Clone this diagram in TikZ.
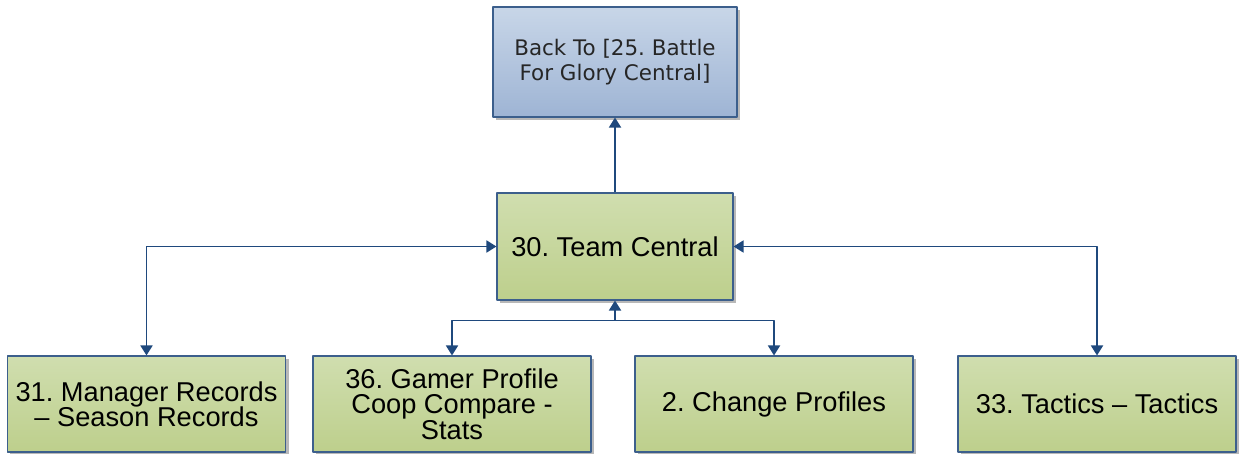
\documentclass[tikz,border=0pt]{standalone}
\usepackage{fontspec}
\setmainfont{Liberation Sans}
\newfontfamily\backfont{DejaVu Sans}
\usetikzlibrary{arrows.meta,shadows}
\frenchspacing
\definecolor{linkblue}{RGB}{31,73,125}
\definecolor{edgeblue}{RGB}{60,95,140}
\definecolor{greentop}{RGB}{208,222,175}
\definecolor{greenbot}{RGB}{189,207,140}
\definecolor{bluetop}{RGB}{200,214,232}
\definecolor{bluebot}{RGB}{158,180,212}
\tikzset{
	screen/.style={draw=edgeblue, line width=0.6pt, top color=greentop, bottom color=greenbot,
		drop shadow={shadow xshift=0.06cm, shadow yshift=-0.06cm, fill=gray!70, opacity=0.8},
		align=center, inner sep=2pt, font=\frenchspacing\fontsize{15.5}{14.5}\selectfont},
	leaf/.style={screen, minimum width=5.56cm, minimum height=1.92cm},
	backbox/.style={screen, top color=bluetop, bottom color=bluebot, minimum width=4.88cm, minimum height=2.2cm,
		font=\backfont\frenchspacing\fontsize{12.2}{14.5}\selectfont, text=black!85},
	link/.style={draw=linkblue, line width=1pt}
}
\begin{document}
\begin{tikzpicture}[>={Triangle[length=0.2cm, width=0.24cm]}, line join=round]
			\useasboundingbox (0,0) rectangle (24.78,9.06);
			\def\ylow{0.98}
			% screens
			\node[backbox] (back) at (12.3,7.82) {Back To [25. Battle\\For Glory Central]};
			\node[screen, minimum width=4.72cm, minimum height=2.14cm] (team) at (12.3,4.13) {30. Team Central};
			\node[leaf] (records) at (2.93,\ylow) {31. Manager Records\\– Season Records};
			\node[leaf] (coop) at (9.04,\ylow) {36. Gamer Profile\\Coop Compare -\\Stats};
			\node[leaf] (profiles) at (15.48,\ylow) {2. Change Profiles};
			\node[leaf] (tactics) at (21.94,\ylow) {33. Tactics – Tactics};
			% links
			\coordinate (fork) at ([yshift=-0.4cm]team.south);
			\draw[link,->] (team.north)--(back.south);
			\draw[link,<->] (team.west)-|(records.north);
			\draw[link,<->] (team.east)-|(tactics.north);
			\draw[link,->] (fork)--(team.south);
			\draw[link,->] (fork)-|(coop.north);
			\draw[link,->] (fork)-|(profiles.north);
		\end{tikzpicture}
\end{document}
